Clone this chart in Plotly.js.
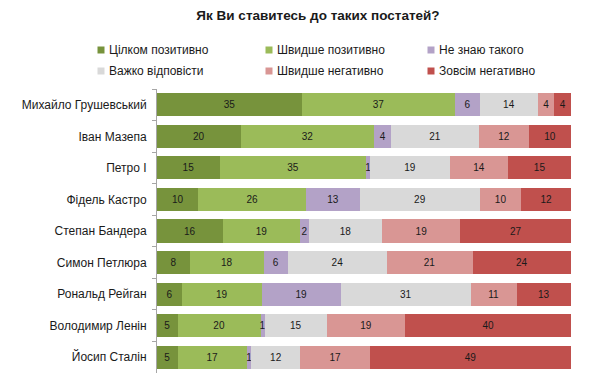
<!DOCTYPE html>
<html>
<head>
<meta charset="utf-8">
<script src="https://cdn.plot.ly/plotly-3.0.1.min.js"></script>
<style>html,body{margin:0;padding:0;background:#fff;}#chart{width:610px;height:382px;}</style>
</head>
<body>
<div id="chart"></div>
<script>
const categories = ["Михайло Грушевський","Іван Мазепа","Петро І","Фідель Кастро","Степан Бандера","Симон Петлюра","Рональд Рейган","Володимир Ленін","Йосип Сталін"];
const seriesNames = ["Цілком позитивно","Швидше позитивно","Не знаю такого","Важко відповісти","Швидше негативно","Зовсім негативно"];
const seriesColors = ["#77933C","#9BBB59","#B3A2C7","#D9D9D9","#D99694","#C0504D"];
const fullyPositive = [35,20,15,10,16,8,6,5,5];
const ratherPositive = [37,32,35,26,19,18,19,20,17];
const dontKnow = [6,4,1,13,2,6,19,1,1];
const hardToSay = [14,21,19,29,18,24,31,15,12];
const ratherNegative = [4,12,14,10,19,21,11,19,17];
const fullyNegative = [4,10,15,12,27,24,13,40,49];
const seriesValues = [fullyPositive, ratherPositive, dontKnow, hardToSay, ratherNegative, fullyNegative];

const FONT = "Liberation Sans, Arial, sans-serif";
const traces = seriesValues.map((vals, i) => ({
  type: "bar",
  orientation: "h",
  name: seriesNames[i],
  x: vals,
  y: categories,
  text: vals.map(String),
  textposition: "inside",
  insidetextanchor: "middle",
  textangle: 0,
  insidetextfont: {family: FONT, size: 10, color: "#1a1a1a"},
  marker: {color: seriesColors[i], line: {width: 0}},
  hoverinfo: "skip",
  showlegend: false
}));

// manual legend (3 columns x 2 rows)
const W = 610, H = 382, L = 157, R = 571, T = 89, B = 373;
const px = v => (v - L) / (R - L);
const py = v => (B - v) / (B - T);
const colX = [101, 269, 431];
const rowY = [50, 71];
const shapes = [];
const annotations = [];
seriesNames.forEach((n, i) => {
  const c = i % 3, r = Math.floor(i / 3);
  const cx = colX[c], cy = rowY[r];
  shapes.push({type: "rect", xref: "paper", yref: "paper",
    x0: px(cx - 3.5), x1: px(cx + 3.5), y0: py(cy + 3.5), y1: py(cy - 3.5),
    fillcolor: seriesColors[i], line: {width: 0}});
  annotations.push({xref: "paper", yref: "paper", x: px(cx + 6), y: py(cy),
    xanchor: "left", yanchor: "middle", showarrow: false, text: n,
    font: {family: FONT, size: 12, color: "#1a1a1a"}});
});

const layout = {
  width: W, height: H,
  margin: {l: L, r: W - R, t: T, b: H - B, pad: 0},
  paper_bgcolor: "#fff", plot_bgcolor: "#fff",
  barmode: "stack", barnorm: "percent", bargap: 0.27,
  uniformtext: {mode: "show", minsize: 10},
  title: {text: "<b>Як Ви ставитесь до таких постатей?</b>", xref: "container", yref: "container",
    x: 318 / W, y: 1 - 15 / H, xanchor: "center", yanchor: "middle",
    font: {family: FONT, size: 13.5, color: "#1a1a1a"}},
  xaxis: {visible: false, range: [0, 100], fixedrange: true},
  yaxis: {type: "category", autorange: "reversed", showgrid: false, zeroline: false,
    showline: true, linecolor: "#A6A6A6", linewidth: 1,
    ticks: "outside", tickson: "boundaries", ticklen: 4, tickcolor: "#A6A6A6",
    ticklabelstandoff: 7,
    tickfont: {family: FONT, size: 12, color: "#1a1a1a"}},
  shapes: shapes,
  annotations: annotations,
  showlegend: false
};
Plotly.newPlot("chart", traces, layout, {displayModeBar: false, staticPlot: true});
</script>
</body>
</html>
